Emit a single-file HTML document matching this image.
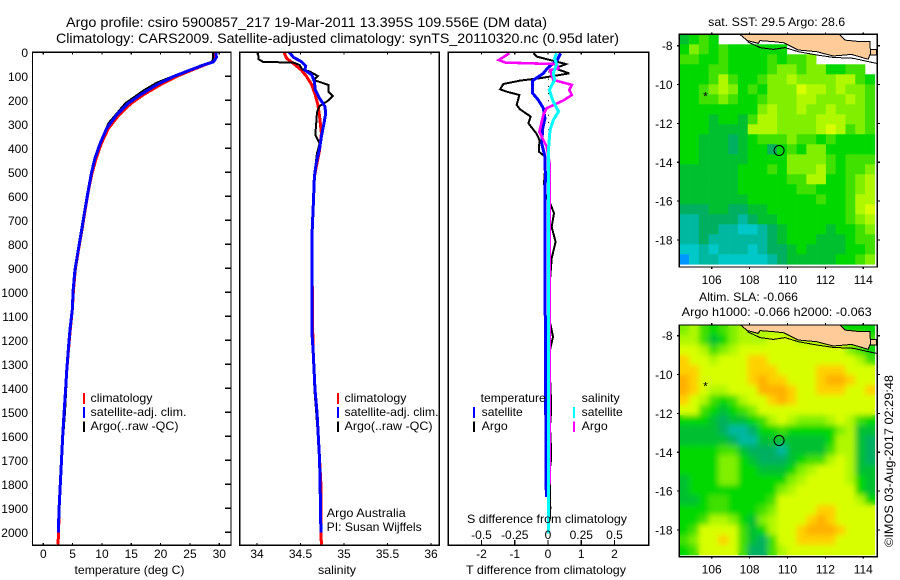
<!DOCTYPE html>
<html><head><meta charset="utf-8"><title>Argo profile</title>
<style>
html,body{margin:0;padding:0;background:#fff;width:900px;height:580px;overflow:hidden}
text{font-family:"Liberation Sans",sans-serif;fill:#000;font-size:12px}
</style></head>
<body>
<svg id="chart" xmlns="http://www.w3.org/2000/svg" width="900" height="580" viewBox="0 0 900 580">
<defs>
<filter id="soft" x="-5%" y="-5%" width="110%" height="110%"><feGaussianBlur stdDeviation="3"/></filter>
<clipPath id="clip-map1"><rect x="679.5" y="34.5" width="197.5" height="232"/></clipPath>
<clipPath id="clip-map2"><rect x="679.5" y="325" width="197.5" height="231.5"/></clipPath>
<clipPath id="clip-sla-data"><rect x="679.5" y="325" width="195.5" height="229.5"/></clipPath>
</defs>
</svg>
<script>
// ---- profile data (depth in m) ----
const depthTicks = [0,100,200,300,400,500,600,700,800,900,1000,1100,1200,1300,1400,1500,1600,1700,1800,1900,2000];
const tempTicks = [0,5,10,15,20,25,30];
const salTicks = ['34','34.5','35','35.5','36'];
const tDiffTicks = ['-2','-1','0','1','2'];
const sDiffTicks = ['-0.5','-0.25','0','0.25','0.5'];
const lonTicks = [106,108,110,112,114];
const latTicks = [-8,-10,-12,-14,-16,-18];

const climTempDepth = [0,21,40,53,74,101,136,178,212,261,317,379,442,504,567,655,739,822,905,989,1072,1155,1239,1322,1405,1500,1600,1700,1800,1900,2000,2050];
const climTempValue = [29.3,29.4,28.8,27.5,25.3,22.7,19.9,17.0,15.0,12.9,11.1,9.9,9.0,8.3,7.75,7.15,6.6,6.0,5.45,5.15,4.95,4.6,4.3,4.0,3.8,3.55,3.3,3.1,2.9,2.7,2.6,2.5];
const satTempDepth = [0,21,40,53,74,101,136,178,212,261,317,379,442,504,572,655,739,822,905,989,1072,1155,1239,1322,1405,1500,1600,1700,1800,1900,2000];
const satTempValue = [29.4,29.5,29.0,27.3,25.0,22.2,19.3,16.5,14.5,12.5,10.8,9.7,8.8,8.2,7.68,7.1,6.54,5.97,5.4,5.1,4.95,4.55,4.26,4.0,3.8,3.55,3.3,3.1,2.9,2.7,2.55];
const argoTempDepth = [0,30,40,53,85,101,126,157,212,296,370,440,504,567,655,739,822,905,989,1072,1155,1239,1322,1405,1500,1600,1700,1780];
const argoTempValue = [28.9,28.9,28.7,27.0,24.0,22.0,19.4,17.2,14.0,11.1,9.9,8.9,8.2,7.7,7.2,6.65,6.05,5.5,5.15,4.9,4.6,4.3,4.05,3.9,3.7,3.4,3.15,3.0];

const climSalDepth = [0,25,53,74,101,136,178,219,268,337,407,462,518,615,780,1160,1240,1405,1500,1600,1700,1800,1900,2000,2050];
const climSalValue = [34.31,34.34,34.44,34.51,34.57,34.63,34.67,34.70,34.72,34.74,34.72,34.69,34.66,34.65,34.63,34.64,34.645,34.667,34.69,34.705,34.72,34.735,34.735,34.735,34.74];
const satSalDepth = [0,21,39,57,74,94,122,157,192,226,254,296,351,400,462,518,615,780,1160,1240,1405,1500,1600,1700,1800,1900,2000];
const satSalValue = [34.37,34.42,34.51,34.56,34.55,34.63,34.66,34.67,34.72,34.78,34.79,34.77,34.74,34.72,34.68,34.66,34.65,34.63,34.63,34.645,34.667,34.69,34.705,34.72,34.725,34.73,34.735];
const argoSalDepth = [0,29,40,43,53,71,81,99,115,136,164,182,201,224,249,297,344,380,421,476,600,780,1160,1405,1500,1600,1700,1780];
const argoSalValue = [34.01,34.02,34.07,34.42,34.49,34.52,34.61,34.70,34.65,34.82,34.82,34.87,34.82,34.72,34.69,34.68,34.67,34.72,34.69,34.67,34.65,34.635,34.635,34.66,34.68,34.70,34.72,34.725];

const argoTDiffDepth = [4,18,39,49,67,88,108,118,132,154,164,178,219,238,268,296,340,365,414,435,490,546,600,628,670,728,790,857,949,1124,1186,1240,1351,1450,1500,1560,1650,1700,1740,1850,1900,1950];
const argoTDiffValue = [-0.44,-0.34,0.26,0.54,0.21,0.64,-0.24,-0.84,-1.34,-1.44,-1.24,-0.86,-0.94,-0.84,-0.52,-0.59,-0.34,-0.26,-0.27,-0.09,-0.09,-0.12,-0.06,0.06,0.18,0.11,0.23,0.11,0.06,0.06,0.15,0.06,0.06,0.09,0.09,0.06,0.09,0.09,0.05,0.06,0.07,0.05];
const satTDiffDepth = [4,32,67,88,118,171,199,233,275,317,380,435,504,782,840,1350,1852];
const satTDiffValue = [0.38,0.28,-0.02,-0.14,-0.46,-0.46,-0.29,-0.14,-0.09,-0.16,-0.19,-0.09,-0.08,-0.09,-0.09,-0.075,-0.05];
const argoSDiffDepth = [4,32,43,49,67,74,115,136,157,178,201,233,261,331,365,393,463,782,1300,1800];
const argoSDiffValue = [-0.29,-0.37,-0.32,0.065,0.08,0.015,0.04,0.18,0.16,0.18,0.115,-0.01,-0.035,-0.065,-0.035,-0.01,0.012,0.012,0.012,0.012];
const satSDiffDepth = [4,25,49,88,115,157,206,247,282,324,393,504,782,1300,2005];
const satSDiffValue = [0.065,0.05,0.065,0.04,0.05,0.01,0.04,0.08,0.04,0.015,0.005,0.004,0.004,0.005,0.003];
const zeroRefDepth = [50,80,110,140,170,200,230,260,290,320,350,380,410,440,470];

// ---- satellite map data: colour-scale level per 0.5 degree cell (null = no data) ----
const _ = null;
const sstGrid = [
[4,5,6,5,_,_,_,_,_,_,_,_,_,_,_,_,_,_,_,_],
[5,7,6,5,6,5,5,5,5,5,5,_,_,_,_,_,_,_,_,_],
[6,6,5,5,6,5,5,5,5,6,5,6,6,7,_,_,_,_,_,_],
[5,5,5,6,6,5,5,5,5,6,7,7,6,7,7,5,5,6,6,_],
[5,5,5,6,8,6,5,5,6,7,7,8,7,7,7,7,8,8,6,5],
[5,5,6,7,8,7,5,6,5,7,7,7,9,8,8,7,8,7,7,6],
[5,5,6,6,7,6,5,5,6,7,7,7,8,8,7,7,7,8,7,6],
[5,5,5,5,5,5,5,5,7,8,7,7,8,7,7,8,7,7,7,6],
[5,5,5,4,5,5,4,6,8,8,7,7,7,7,8,8,8,7,7,6],
[5,5,5,4,4,4,4,8,8,8,7,7,7,7,8,9,8,6,7,6],
[5,5,4,4,4,3,4,5,6,6,6,7,6,6,5,6,5,5,5,5],
[5,5,4,4,4,3,4,5,5,3,5,6,5,7,7,5,5,5,5,5],
[5,5,4,4,4,4,4,5,5,5,5,7,7,7,7,6,5,6,6,6],
[4,4,4,4,4,4,5,5,5,6,5,7,7,7,8,6,5,6,6,7],
[4,4,4,4,4,4,5,5,5,5,5,6,6,8,8,5,5,6,7,8],
[4,4,4,4,4,4,5,5,5,5,5,5,6,6,5,5,5,6,7,8],
[4,4,4,4,4,4,4,5,5,5,5,5,5,5,6,5,5,6,8,8],
[3,3,3,4,4,3,3,4,4,5,5,5,5,5,5,5,5,6,8,9],
[2,2,3,3,3,3,2,3,4,4,5,5,5,5,5,5,5,6,7,8],
[2,2,3,3,2,2,1,1,2,3,4,5,5,5,5,4,5,5,6,7],
[2,2,3,2,2,2,2,2,2,3,4,5,5,5,4,4,4,5,6,6],
[1,1,2,1,2,2,2,1,2,3,3,4,5,4,4,4,4,5,5,6],
[0,1,2,2,1,1,1,1,1,2,3,4,4,4,4,4,5,5,6,7]
];
const slaGrid = [
[7,8,6,5,6,7,8,8,8,8,8,8,8,8,8,8,5,5,5,5],
[8,8,6,4,5,7,8,8,8,9,9,9,8,8,8,8,8,8,8,6],
[9,9,8,6,7,8,9,9,9,9,9,9,9,9,9,9,9,7,6,5],
[10,9,9,8,9,9,9,10,10,9,9,9,9,9,9,9,9,9,8,6],
[10,10,9,9,9,9,9,10,10,10,9,9,9,9,10,10,10,9,9,9],
[11,10,9,9,9,9,9,10,11,10,10,9,9,9,10,11,11,10,9,9],
[11,10,9,8,8,9,9,9,11,11,11,10,9,9,10,10,10,9,9,10],
[10,9,8,6,5,6,8,9,9,10,11,10,9,9,9,9,9,9,9,9],
[9,9,6,5,4,5,6,7,9,9,9,9,9,9,9,9,9,9,9,9],
[5,5,5,4,3,4,4,5,6,8,9,8,7,7,7,8,9,8,6,5],
[4,4,4,4,3,2,2,3,5,5,6,5,5,5,5,5,7,8,4,4],
[4,4,4,4,4,3,2,2,4,4,4,4,4,4,4,5,8,8,4,3],
[5,5,5,5,6,6,4,3,3,3,2,4,4,4,4,6,8,8,4,3],
[5,5,5,5,7,7,5,4,3,3,3,4,5,6,6,8,9,8,4,3],
[5,5,5,5,7,7,5,5,4,4,4,5,7,8,9,9,9,8,4,4],
[4,5,5,5,7,7,5,5,5,5,5,7,8,9,9,9,9,8,5,4],
[4,5,5,5,5,5,5,5,5,5,7,8,9,9,9,9,9,9,5,4],
[4,4,5,6,6,5,5,5,5,6,9,9,9,9,9,9,9,9,8,5],
[5,5,5,6,6,5,5,5,6,7,9,9,9,9,10,10,9,9,9,9],
[5,5,6,8,8,7,5,4,7,8,9,9,9,10,11,10,9,9,9,9],
[5,6,9,9,9,9,6,4,5,8,9,9,10,11,11,11,10,9,9,9],
[6,7,9,9,10,9,6,4,3,6,9,9,10,10,10,10,9,9,9,9],
[5,6,9,9,9,9,6,3,3,6,8,9,9,9,9,9,9,9,9,9]
];
const landLon = [107.49,107.88,108.46,108.55,109.25,109.81,110.57,111.54,112.41,113.38,114.26,114.38,114.35,113.82,113.03,112.73];
const landLat = [-7.42,-7.74,-7.88,-7.74,-7.79,-7.85,-8.22,-8.31,-8.53,-8.45,-8.70,-8.39,-7.79,-7.79,-7.71,-7.42];
const contourLon = [107.88,108.55,109.25,109.87,110.57,111.54,112.41,113.47,114.26,114.70];
const contourLat = [-7.79,-8.10,-8.19,-8.10,-8.31,-8.48,-8.60,-8.65,-8.82,-8.91];
const isletLon = [114.38,114.70,114.70,114.38];
const isletLat = [-8.19,-8.19,-8.48,-8.48];
const floatLon = 109.556;
const floatLat = -13.395;
const starLon = 105.67;
const starLat = -10.5;
const sstColors = ['#0098ff','#00c8c8','#00b8a0','#00b060','#00c030','#00d800','#40e000','#80f000','#b0f800','#d8ff00','#ffd000','#ffb000'];

// ---- drawing ----
const svg = document.getElementById('chart');
const NS = 'http://www.w3.org/2000/svg';
function add(tag, attrs, parent){
  const el = document.createElementNS(NS, tag);
  for (const k in attrs) el.setAttribute(k, attrs[k]);
  (parent || svg).appendChild(el);
  return el;
}
function label(str, x, y, anchor, name, size, len, parent){
  const el = add('text', {x:x, y:y, 'text-anchor':anchor||'start'}, parent);
  
  
  if (size) el.style.fontSize = size + 'px';
  if (len) { el.setAttribute('textLength', len); el.setAttribute('lengthAdjust', 'spacingAndGlyphs'); }
  el.textContent = str;
  return el;
}
const yDepth = d => 52.3 + d * 0.24;
const xTemp = t => 43.3 + t * 5.867;
const xSal = s => 257 + (s - 34) * 87;
const xTDiff = t => 548 + t * 33.25;
const xSDiff = s => 548 + s * 133;
const xLon = lon => 711.7 + (lon - 106) * 18.95;
const yLatA = lat => 45.7 + (-8 - lat) * 19.43;
const yLatB = lat => 335.7 + (-8 - lat) * 19.43;

function series(xs, ys, xf, color, width, name){
  const pts = xs.map((v, i) => xf(v).toFixed(1) + ',' + yDepth(ys[i]).toFixed(1)).join(' ');
  const el = add('polyline', {points:pts, fill:'none', stroke:color, 'stroke-width':width, 'stroke-linejoin':'miter', 'shape-rendering':'crispEdges'});
  
  
}
function frame(x0, y0, x1, y1, name){
  const el = add('rect', {x:x0, y:y0, width:x1-x0, height:y1-y0, fill:'none', stroke:'#000', 'stroke-width':1.4, 'shape-rendering':'crispEdges'});
  
  
}
function tick(x1, y1, x2, y2, name){
  const el = add('line', {x1:x1, y1:y1, x2:x2, y2:y2, stroke:'#000', 'stroke-width':1.2, 'shape-rendering':'crispEdges'});
  
  
}
function swatch(x, y0, y1, color, name){
  const el = add('line', {x1:x, y1:y0, x2:x, y2:y1, stroke:color, 'stroke-width':2.4, 'shape-rendering':'crispEdges'});
  
  
}

// titles
label('Argo profile: csiro 5900857_217 19-Mar-2011 13.395S 109.556E (DM data)', 66, 27, 'start', 'figure-title-line-1', 14, 481);
label('Climatology: CARS2009. Satellite-adjusted climatology: synTS_20110320.nc (0.95d later)', 56, 43, 'start', 'figure-title-line-2', 14, 563);

// temperature panel
series(climTempValue, climTempDepth, xTemp, '#ff0000', 3, 'temperature-climatology-line');
series(argoTempValue, argoTempDepth, xTemp, '#000000', 2, 'temperature-argo-line');
series(satTempValue, satTempDepth, xTemp, '#0000ff', 3, 'temperature-satellite-line');
frame(32.5, 52.3, 231, 545.3, 'temperature-panel-frame');
depthTicks.forEach(d => {
  tick(225, yDepth(d), 231, yDepth(d), 'depth-tick');
  label(String(d), 28, yDepth(d) + 4.5, 'end', 'depth-tick-label');
});
tempTicks.forEach(t => {
  tick(xTemp(t), 52.3, xTemp(t), 54.5, 'temperature-top-tick');
  tick(xTemp(t), 543, xTemp(t), 545.3, 'temperature-bottom-tick');
  label(String(t), xTemp(t), 558, 'middle', 'temperature-tick-label');
});
label('temperature (deg C)', 129.5, 574, 'middle', 'temperature-axis-title', 12, 110);
swatch(84, 393, 404, '#ff0000', 'legend-climatology-swatch');
swatch(84, 407, 418, '#0000ff', 'legend-satellite-swatch');
swatch(84, 421.5, 432, '#000000', 'legend-argo-swatch');
label('climatology', 90.5, 402, 'start', 'legend-climatology-label', 12, 62);
label('satellite-adj. clim.', 90.5, 416, 'start', 'legend-satellite-label', 12, 96);
label('Argo(..raw -QC)', 90.5, 430, 'start', 'legend-argo-label', 12, 88);

// salinity panel
series(climSalValue, climSalDepth, xSal, '#ff0000', 3, 'salinity-climatology-line');
series(argoSalValue, argoSalDepth, xSal, '#000000', 2, 'salinity-argo-line');
series(satSalValue, satSalDepth, xSal, '#0000ff', 3, 'salinity-satellite-line');
frame(239.7, 52.3, 439.3, 545.3, 'salinity-panel-frame');
salTicks.forEach(s => {
  tick(xSal(+s), 52.3, xSal(+s), 54.5, 'salinity-top-tick');
  tick(xSal(+s), 543, xSal(+s), 545.3, 'salinity-bottom-tick');
  label(s, xSal(+s), 558, 'middle', 'salinity-tick-label');
});
label('salinity', 337, 574, 'middle', 'salinity-axis-title', 12, 38);
swatch(338, 393, 404, '#ff0000', 'salinity-legend-climatology-swatch');
swatch(338, 407, 418, '#0000ff', 'salinity-legend-satellite-swatch');
swatch(338, 421.5, 432, '#000000', 'salinity-legend-argo-swatch');
label('climatology', 344.5, 402, 'start', 'salinity-legend-climatology-label', 12, 62);
label('satellite-adj. clim.', 344.5, 416, 'start', 'salinity-legend-satellite-label', 12, 94);
label('Argo(..raw -QC)', 344.5, 430, 'start', 'salinity-legend-argo-label', 12, 88);
label('Argo Australia', 326.7, 517, 'start', 'operator-label', 12, 79);
label('PI: Susan Wijffels', 326.7, 531, 'start', 'pi-label', 12, 95);

// difference panel
zeroRefDepth.forEach(d => {
  const el = add('rect', {x:xTDiff(0), y:yDepth(d), width:1, height:1, fill:'#000'});
  
  
});
series(argoTDiffValue, argoTDiffDepth, xTDiff, '#000000', 2, 'tdiff-argo-line');
series(satTDiffValue, satTDiffDepth, xTDiff, '#0000ff', 3, 'tdiff-satellite-line');
series(argoSDiffValue, argoSDiffDepth, xSDiff, '#ff00ff', 2.6, 'sdiff-argo-line');
series(satSDiffValue, satSDiffDepth, xSDiff, '#00ffff', 3, 'sdiff-satellite-line');
frame(448.3, 52.3, 648.7, 545.3, 'difference-panel-frame');
tDiffTicks.forEach(t => {
  tick(xTDiff(+t), 52.3, xTDiff(+t), 54.5, 'tdiff-top-tick');
  tick(xTDiff(+t), 540, xTDiff(+t), 545.3, 'tdiff-bottom-tick');
  label(t, xTDiff(+t), 558, 'middle', 'tdiff-tick-label');
});
sDiffTicks.forEach(s => {
  label(s, xSDiff(+s), 539, 'middle', 'sdiff-tick-label');
});
label('S difference from climatology', 547, 523, 'middle', 'sdiff-axis-title', 12, 160);
label('T difference from climatology', 546, 574, 'middle', 'tdiff-axis-title', 12, 160);
label('temperature', 480.7, 402, 'start', 'diff-legend-temperature-heading', 12, 65);
label('satellite', 481.7, 416, 'start', 'diff-legend-t-satellite-label', 12, 41);
label('Argo', 481.7, 430, 'start', 'diff-legend-t-argo-label', 12, 26);
label('salinity', 581.7, 402, 'start', 'diff-legend-salinity-heading', 12, 38);
label('satellite', 581.7, 416, 'start', 'diff-legend-s-satellite-label', 12, 41);
label('Argo', 581.7, 430, 'start', 'diff-legend-s-argo-label', 12, 26);
swatch(474, 407, 418, '#0000ff', 'diff-legend-t-satellite-swatch');
swatch(474, 421.5, 432, '#000000', 'diff-legend-t-argo-swatch');
swatch(574, 407, 418, '#00ffff', 'diff-legend-s-satellite-swatch');
swatch(574, 421.5, 432, '#ff00ff', 'diff-legend-s-argo-swatch');

// maps
function drawMap(grid, top, yLat, clipId, frameBottom, prefix, soft){
  const g = add('g', {'clip-path':'url(#' + clipId + ')'});
  
  
  const cw = 195.5 / grid[0].length, ch = 230 / grid.length;
  const paint = (parent) => grid.forEach((row, r) => row.forEach((v, c) => {
    if (v === null) return;
    const cell = add('rect', {x:(679.3 + c*cw).toFixed(2), y:(top + r*ch).toFixed(2), width:(cw + 0.3).toFixed(2), height:(ch + 0.3).toFixed(2), fill:sstColors[v]}, parent);
    
    
  }));
  paint(g);
  if (soft) {
    const inner = add('g', {'clip-path':'url(#clip-sla-data)'}, g);
    const blurred = add('g', {filter:'url(#soft)'}, inner);
    paint(blurred);
  }
  const land = add('polygon', {points:landLon.map((v,i) => xLon(v).toFixed(1)+','+yLat(landLat[i]).toFixed(1)).join(' '), fill:'#ffcc99', stroke:'#000', 'stroke-width':1, 'shape-rendering':'crispEdges'}, g);
  
  
  const islet = add('polygon', {points:isletLon.map((v,i) => xLon(v).toFixed(1)+','+yLat(isletLat[i]).toFixed(1)).join(' '), fill:'#ffcc99', stroke:'#000', 'stroke-width':1, 'shape-rendering':'crispEdges'}, g);
  
  
  const contour = add('polyline', {points:contourLon.map((v,i) => xLon(v).toFixed(1)+','+yLat(contourLat[i]).toFixed(1)).join(' '), fill:'none', stroke:'#000', 'stroke-width':1, 'shape-rendering':'crispEdges'}, g);
  
  
  const circle = add('circle', {cx:xLon(floatLon), cy:yLat(floatLat), r:5, fill:'none', stroke:'#000', 'stroke-width':1});
  
  
  label('*', xLon(starLon), yLat(starLat) + 6, 'middle', prefix + '-star-marker', 12);
  frame(679.3, top, 877.3, frameBottom, prefix + '-map-frame');
  lonTicks.forEach(l => {
    tick(xLon(l), top - 2, xLon(l), top, prefix + '-lon-top-tick');
    tick(xLon(l), frameBottom, xLon(l), frameBottom + 2, prefix + '-lon-bottom-tick');
    label(String(l), xLon(l), frameBottom + 17, 'middle', prefix + '-lon-tick-label', 12);
  });
  latTicks.forEach(l => {
    tick(677, yLat(l), 679.3, yLat(l), prefix + '-lat-left-tick');
    tick(877.3, yLat(l), 880, yLat(l), prefix + '-lat-right-tick');
    label(String(l), 672.5, yLat(l) + 4.5, 'end', prefix + '-lat-tick-label', 12);
  });
}
drawMap(sstGrid, 34.3, yLatA, 'clip-map1', 267, 'sst', false);
drawMap(slaGrid, 325, yLatB, 'clip-map2', 556.7, 'sla', true);

label('sat. SST: 29.5 Argo: 28.6', 776.7, 26, 'middle', 'sst-map-title', 12, 137);
label('Altim. SLA: -0.066', 699, 301, 'start', 'sla-map-title', 12, 99);
label('Argo h1000: -0.066 h2000: -0.063', 681.7, 316, 'start', 'sla-map-subtitle', 12, 190);
const stamp = label('\u00A9IMOS 03-Aug-2017 02:29:48', 0, 0, 'start', 'imos-timestamp', 12, 172);
stamp.setAttribute('transform', 'translate(893,547) rotate(-90)');
</script>
</body></html>
